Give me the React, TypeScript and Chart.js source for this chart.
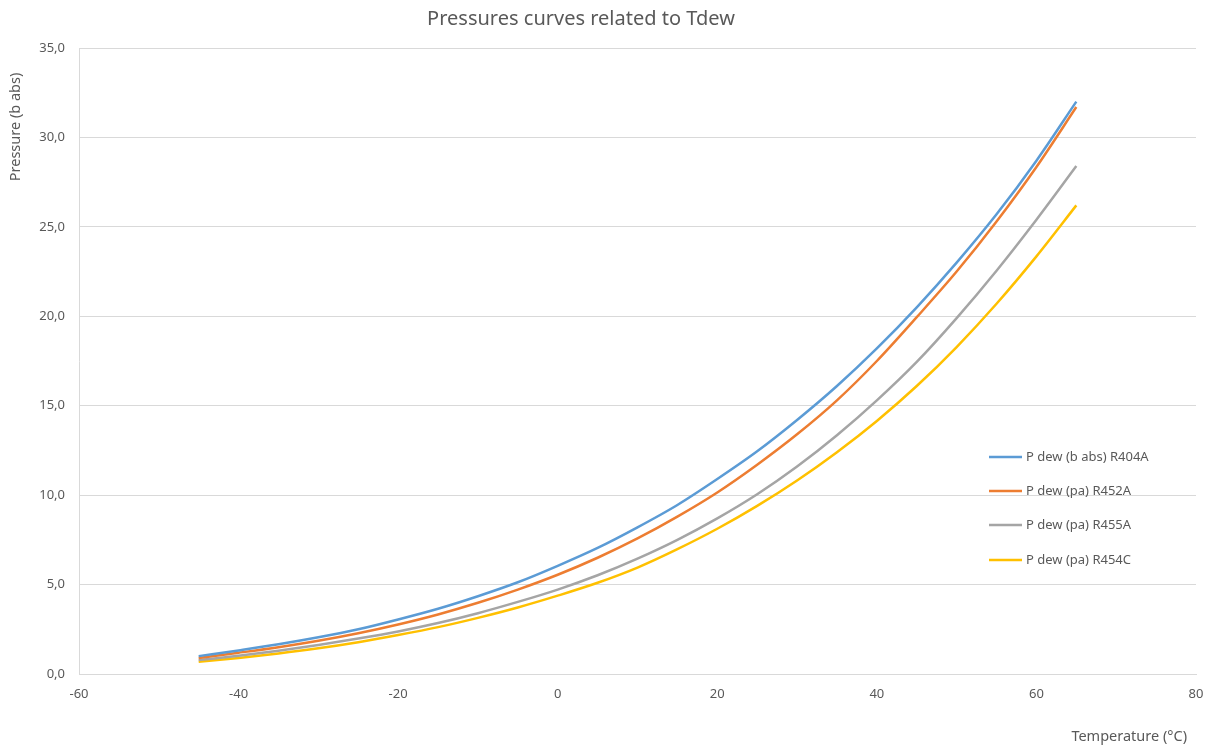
import React, { useEffect, useRef } from "react";
import { Chart, registerables } from "chart.js";

Chart.register(...registerables);

const temperatures = [-45, -40, -35, -30, -25, -20, -15, -10, -5, 0, 5, 10, 15, 20, 25, 30, 35, 40, 45, 50, 55, 60, 65];
const pR404A = [1.0, 1.32, 1.66, 2.05, 2.5, 3.05, 3.65, 4.35, 5.13, 6.05, 7.05, 8.2, 9.45, 10.9, 12.45, 14.2, 16.1, 18.2, 20.5, 23.0, 25.7, 28.7, 32.0];
const pR452A = [0.9, 1.19, 1.5, 1.86, 2.28, 2.77, 3.33, 3.98, 4.72, 5.55, 6.5, 7.58, 8.8, 10.15, 11.7, 13.4, 15.3, 17.5, 19.95, 22.5, 25.3, 28.35, 31.7];
const pR455A = [0.78, 1.02, 1.3, 1.62, 1.98, 2.38, 2.85, 3.4, 4.03, 4.72, 5.52, 6.45, 7.5, 8.7, 10.05, 11.6, 13.35, 15.3, 17.45, 19.9, 22.55, 25.4, 28.4];
const pR454C = [0.68, 0.9, 1.15, 1.44, 1.78, 2.18, 2.62, 3.14, 3.72, 4.38, 5.1, 5.95, 6.98, 8.12, 9.4, 10.82, 12.4, 14.15, 16.1, 18.28, 20.7, 23.35, 26.2];

const seriesLabels = ["P dew (b abs) R404A", "P dew (pa) R452A", "P dew (pa) R455A", "P dew (pa) R454C"];
const seriesColors = ["#5B9BD5", "#ED7D31", "#A5A5A5", "#FFC000"];
const seriesValues = [pR404A, pR452A, pR455A, pR454C];

const chartTitle = "Pressures curves related to Tdew";
const xTitle = "Temperature (°C)";
const yTitle = "Pressure (b abs)";

const FONT = "'Noto Sans', 'Open Sans', sans-serif";
const TEXT = "#595959";

const overlayPlugin = {
  id: "overlay",
  afterDraw(chart: any) {
    const ctx = chart.ctx;
    ctx.save();
    ctx.fillStyle = TEXT;
    // title
    ctx.font = `20px ${FONT}`;
    ctx.textAlign = "center";
    ctx.textBaseline = "middle";
    ctx.fillText(chartTitle, 581, 19);
    // x axis title
    ctx.font = `14.5px ${FONT}`;
    ctx.textAlign = "right";
    ctx.fillText(xTitle, 1187, 737);
    // y axis title
    ctx.save();
    ctx.translate(16, 127);
    ctx.rotate(-Math.PI / 2);
    ctx.textAlign = "center";
    ctx.fillText(yTitle, 0, 0);
    ctx.restore();
    // legend
    ctx.font = `13px ${FONT}`;
    ctx.textAlign = "left";
    const rows = [457, 491, 525, 560];
    seriesLabels.forEach((lab, i) => {
      const y = rows[i];
      ctx.strokeStyle = seriesColors[i];
      ctx.lineWidth = 2.5;
      ctx.beginPath();
      ctx.moveTo(989, y);
      ctx.lineTo(1022, y);
      ctx.stroke();
      ctx.fillStyle = TEXT;
      ctx.fillText(lab, 1026, y);
    });
    ctx.restore();
  },
};

export default function App() {
  const ref = useRef<HTMLCanvasElement | null>(null);
  useEffect(() => {
    document.body.style.margin = "0";
    const canvas = ref.current;
    if (!canvas) return;
    const chart = new Chart(canvas, {
      type: "line",
      data: {
        datasets: seriesValues.map((vals, i) => ({
          label: seriesLabels[i],
          data: temperatures.map((t, j) => ({ x: t, y: vals[j] })),
          borderColor: seriesColors[i],
          backgroundColor: seriesColors[i],
          borderWidth: 2.5,
          pointRadius: 0,
          cubicInterpolationMode: "monotone" as const,
          fill: false,
        })),
      },
      options: {
        animation: false,
        responsive: false,
        maintainAspectRatio: false,
        layout: { padding: { top: 48, right: 16, left: 0, bottom: 0 } },
        plugins: {
          legend: { display: false },
          title: { display: false },
          tooltip: { enabled: false },
        },
        scales: {
          x: {
            type: "linear",
            min: -60,
            max: 80,
            afterFit: (s: any) => { s.height = 75; s.paddingRight = 0; s.paddingLeft = 0; },
            ticks: {
              stepSize: 20,
              color: TEXT,
              font: { family: FONT, size: 13 },
              padding: 12,
              maxRotation: 0,
            },
            grid: { display: false, drawTicks: false },
            border: { display: true, color: "#D9D9D9", width: 1 },
          },
          y: {
            type: "linear",
            min: 0,
            max: 35,
            afterFit: (s: any) => { s.width = 79; s.paddingTop = 0; s.paddingBottom = 0; },
            ticks: {
              stepSize: 5,
              color: TEXT,
              font: { family: FONT, size: 13 },
              padding: 14,
              callback: (v: any) => Number(v).toFixed(1).replace(".", ","),
            },
            grid: { color: "#D9D9D9", drawTicks: false, lineWidth: 1 },
            border: { display: true, color: "#D9D9D9", width: 1 },
          },
        },
      },
      plugins: [overlayPlugin],
    });
    return () => chart.destroy();
  }, []);
  return (
    <div style={{ position: "absolute", left: 0, top: 0, width: 1212, height: 749, background: "#fff" }}>
      <canvas ref={ref} width={1212} height={749} style={{ width: 1212, height: 749 }} />
    </div>
  );
}
